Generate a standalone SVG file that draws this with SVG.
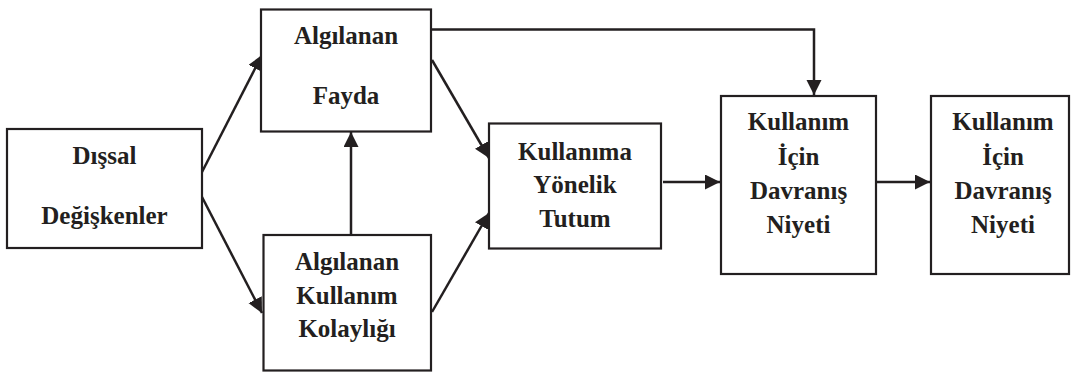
<svg xmlns="http://www.w3.org/2000/svg" width="1071" height="372" viewBox="0 0 1071 372">
  <style>
    .box { fill: #ffffff; stroke: #231f20; stroke-width: 2.2; }
    .edge { fill: none; stroke: #231f20; stroke-width: 2.5; }
  </style>
  <defs>
    <marker id="arrow" markerUnits="userSpaceOnUse" markerWidth="16" markerHeight="16" refX="15" refY="7.5" orient="auto">
      <path d="M0,0 L15,7.5 L0,15 z" fill="#231f20"/>
    </marker>
  </defs>

  <rect width="1071" height="372" fill="#ffffff"/>

  <g id="connectors">
    <line class="edge" x1="202" y1="172" x2="262" y2="55" marker-end="url(#arrow)"/>
    <line class="edge" x1="202" y1="197" x2="262" y2="313" marker-end="url(#arrow)"/>
    <line class="edge" x1="351" y1="235" x2="351" y2="132" marker-end="url(#arrow)"/>
    <line class="edge" x1="432" y1="60" x2="489" y2="158" marker-end="url(#arrow)"/>
    <line class="edge" x1="432" y1="312" x2="489" y2="213" marker-end="url(#arrow)"/>
    <line class="edge" x1="663" y1="182" x2="720" y2="182" marker-end="url(#arrow)"/>
    <line class="edge" x1="877" y1="182" x2="930" y2="182" marker-end="url(#arrow)"/>
    <polyline class="edge" points="432,29.5 814,29.5 814,95" marker-end="url(#arrow)"/>
  </g>

  <!-- node labels: bold serif, centred -->
  <g font-family="Tinos, Liberation Serif, serif" font-weight="bold" font-size="25" fill="#231f20" text-anchor="middle">
    <g id="node-dissal">
      <rect class="box" x="7" y="129" width="195" height="119"/>
      <text x="104.5" y="164">Dışsal</text>
      <text x="104.5" y="224">Değişkenler</text>
    </g>

    <g id="node-fayda">
      <rect class="box" x="261" y="9.5" width="170" height="122"/>
      <text x="346" y="44">Algılanan</text>
      <text x="346" y="104">Fayda</text>
    </g>

    <g id="node-kolaylik">
      <rect class="box" x="263.5" y="235" width="167.5" height="135.5"/>
      <text x="347" y="270">Algılanan</text>
      <text x="347" y="303.5">Kullanım</text>
      <text x="347" y="337">Kolaylığı</text>
    </g>

    <g id="node-tutum">
      <rect class="box" x="489" y="123.5" width="172" height="125"/>
      <text x="575" y="160">Kullanıma</text>
      <text x="575" y="193">Yönelik</text>
      <text x="575" y="226.5">Tutum</text>
    </g>

    <g id="node-niyet-1">
      <rect class="box" x="721" y="96" width="155" height="178"/>
      <text x="798.5" y="130">Kullanım</text>
      <text x="798.5" y="165">İçin</text>
      <text x="798.5" y="199">Davranış</text>
      <text x="798.5" y="233">Niyeti</text>
    </g>

    <g id="node-niyet-2">
      <rect class="box" x="931" y="96" width="138" height="178"/>
      <text x="1003" y="130">Kullanım</text>
      <text x="1003" y="165">İçin</text>
      <text x="1003" y="199">Davranış</text>
      <text x="1003" y="233">Niyeti</text>
    </g>
  </g>
</svg>
